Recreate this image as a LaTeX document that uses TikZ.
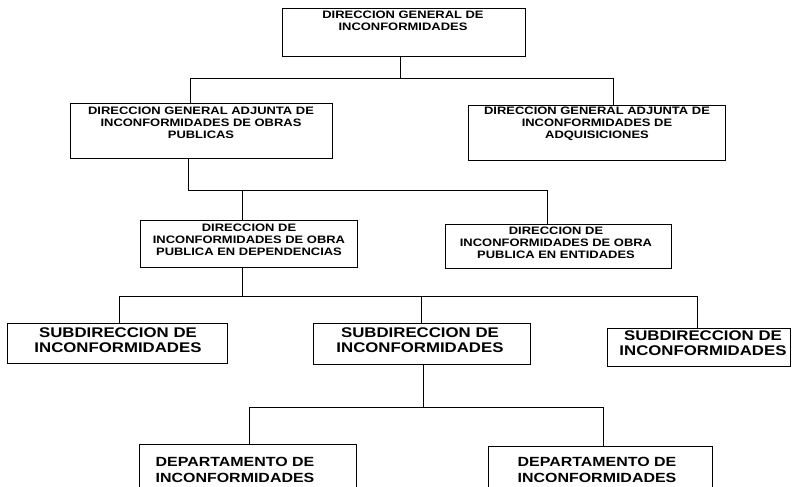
\documentclass[tikz,border=0pt]{standalone}
\usepackage{fontspec}
\newfontfamily\orgfont[FakeStretch=1.2]{Liberation Sans}
\begin{document}
\begin{tikzpicture}[x=1pt,y=-1pt,
  box/.style={draw=black,line width=0.8pt,inner sep=0pt,rectangle},
  openbox/.style={inner sep=0pt,rectangle},
  txtS/.style={inner sep=0pt,align=center,font=\orgfont\bfseries\fontsize{10.8}{12}\selectfont},
  txtM/.style={inner sep=0pt,align=center,font=\orgfont\bfseries\fontsize{14}{15}\selectfont},
  txtL/.style={inner sep=0pt,align=center,font=\orgfont\bfseries\fontsize{13.3}{16.5}\selectfont},
  conn/.style={draw=black,line width=0.7pt}]
\useasboundingbox (0,0) rectangle (793,487);
% boxes
\node[box,minimum width=243,minimum height=48] (T) at (403.5,32) {};
\node[box,minimum width=262,minimum height=55] (A) at (201,130.5) {};
\node[box,minimum width=257,minimum height=55] (B) at (596.5,132.5) {};
\node[box,minimum width=217,minimum height=47] (C) at (248.5,243.5) {};
\node[box,minimum width=226,minimum height=44] (D) at (558,246) {};
\node[box,minimum width=220,minimum height=40] (E) at (117,343) {};
\node[box,minimum width=217,minimum height=41] (F) at (421.5,343.5) {};
\node[box,minimum width=183,minimum height=38] (G) at (698.5,347) {};
\node[openbox,minimum width=216,minimum height=60] (H) at (248,475) {};
\node[openbox,minimum width=223,minimum height=60] (I) at (600.5,477) {};
\draw[conn] (H.south west) -- (H.north west) -- (H.north east) -- (H.south east);
\draw[conn] (I.south west) -- (I.north west) -- (I.north east) -- (I.south east);
% texts
\node[txtS] (tT) at (403,20.5) {DIRECCION GENERAL DE\\INCONFORMIDADES};
\node[txtS] (tA) at (201,123) {DIRECCION GENERAL ADJUNTA DE\\INCONFORMIDADES DE OBRAS\\PUBLICAS};
\node[txtS] (tB) at (597,123.5) {DIRECCION GENERAL ADJUNTA DE\\INCONFORMIDADES DE\\ADQUISICIONES};
\node[txtS] (tC) at (249,240) {DIRECCION DE\\INCONFORMIDADES DE OBRA\\PUBLICA EN DEPENDENCIAS};
\node[txtS] (tD) at (556,243) {DIRECCION DE\\INCONFORMIDADES DE OBRA\\PUBLICA EN ENTIDADES};
\node[txtM] (tE) at (118,340) {SUBDIRECCION DE\\INCONFORMIDADES};
\node[txtM] (tF) at (420,340.5) {SUBDIRECCION DE\\INCONFORMIDADES};
\node[txtM] (tG) at (703,343) {SUBDIRECCION DE\\INCONFORMIDADES};
\node[txtL] (tH) at (235,470) {DEPARTAMENTO DE\\INCONFORMIDADES};
\node[txtL] (tI) at (597,470) {DEPARTAMENTO DE\\INCONFORMIDADES};
% junction coordinates
\coordinate (j1) at (400,78);
\coordinate (j1a) at (190,78);
\coordinate (j1b) at (613,78);
\coordinate (j2) at (188,190);
\coordinate (j2c) at (242,190);
\coordinate (j2d) at (547,190);
\coordinate (j3) at (242,296);
\coordinate (j3e) at (119,296);
\coordinate (j3f) at (421,296);
\coordinate (j3g) at (697,296);
\coordinate (j4) at (423,407);
\coordinate (j4h) at (249,407);
\coordinate (j4i) at (603,407);
% connectors
\draw[conn] (j1 |- T.south) -- (j1);
\draw[conn] (j1a) -- (j1b);
\draw[conn] (j1a) -- (j1a |- A.north);
\draw[conn] (j1b) -- (j1b |- B.north);
\draw[conn] (j2 |- A.south) -- (j2) -- (j2d);
\draw[conn] (j2c) -- (j2c |- C.north);
\draw[conn] (j2d) -- (j2d |- D.north);
\draw[conn] (j3 |- C.south) -- (j3);
\draw[conn] (j3e) -- (j3g);
\draw[conn] (j3e) -- (j3e |- E.north);
\draw[conn] (j3f) -- (j3f |- F.north);
\draw[conn] (j3g) -- (j3g |- G.north);
\draw[conn] (j4 |- F.south) -- (j4);
\draw[conn] (j4h) -- (j4i);
\draw[conn] (j4h) -- (j4h |- H.north);
\draw[conn] (j4i) -- (j4i |- I.north);
\end{tikzpicture}
\end{document}
